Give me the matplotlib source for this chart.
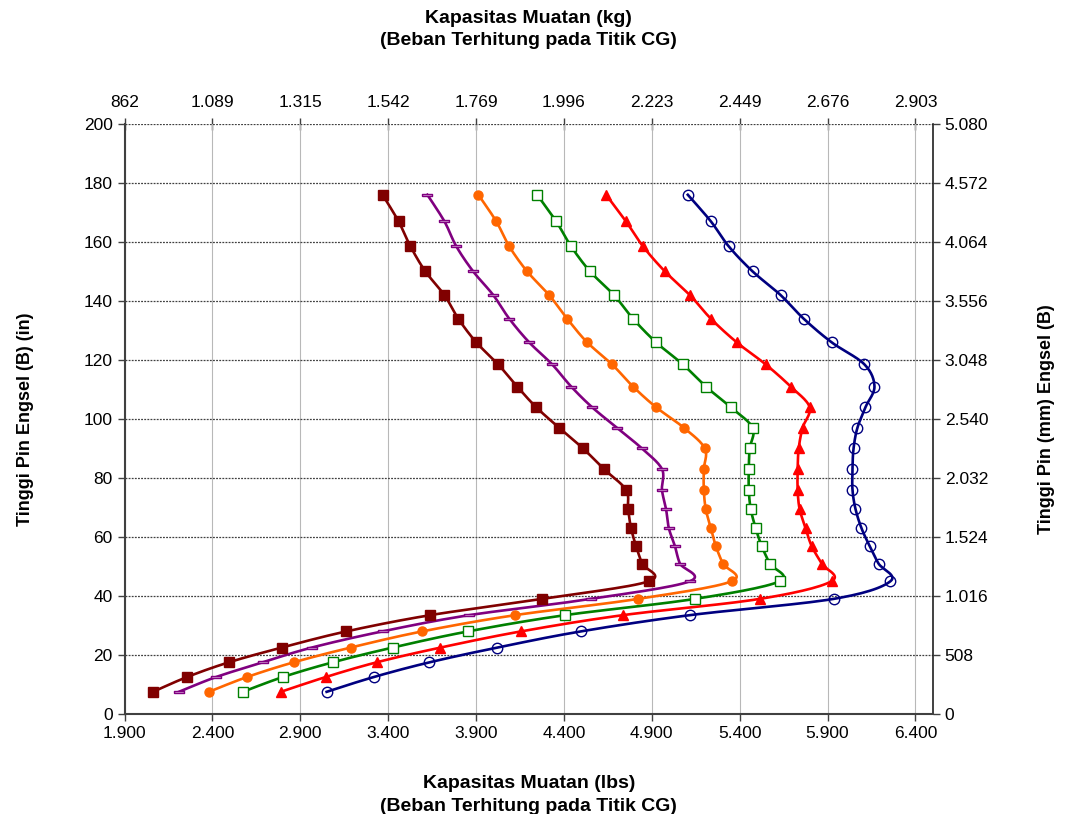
import numpy as np
import matplotlib
matplotlib.use("Agg")
import matplotlib.pyplot as plt
from matplotlib.ticker import FuncFormatter

plt.rcParams['font.family'] = ['Liberation Sans', 'DejaVu Sans']

# Hinge pin height (in), shared by every load curve
pin_height = [176, 167, 158.5, 150, 142, 134, 126, 118.5, 111, 104, 97, 90, 83,
              76, 69.5, 63, 57, 51, 45, 39, 33.5, 28, 22.5, 17.5, 12.5, 7.5]

# Load capacity (lbs) for each curve, in the same order as pin_height
cap_brown = [3368, 3459, 3527, 3612, 3720, 3799, 3901, 4026, 4134, 4242, 4373, 4509, 4628,
             4753, 4765, 4782, 4810, 4844, 4884, 4276, 3640, 3163, 2794, 2493, 2255, 2062]
cap_purple = [3623, 3720, 3788, 3884, 3998, 4089, 4202, 4333, 4441, 4560, 4702, 4844, 4958,
              4958, 4981, 4997, 5031, 5060, 5117, 4554, 3862, 3368, 2965, 2686, 2420, 2209]
cap_orange = [3913, 4015, 4089, 4191, 4316, 4418, 4532, 4674, 4793, 4924, 5083, 5202, 5196,
              5196, 5207, 5236, 5264, 5304, 5355, 4821, 4123, 3595, 3186, 2862, 2596, 2380]
cap_green = [4248, 4356, 4441, 4549, 4685, 4793, 4924, 5077, 5207, 5349, 5474, 5457, 5452,
             5452, 5463, 5491, 5525, 5571, 5628, 5145, 4407, 3856, 3425, 3084, 2800, 2573]
cap_red = [4640, 4753, 4850, 4975, 5117, 5236, 5383, 5548, 5690, 5798, 5758, 5736, 5730,
           5730, 5741, 5775, 5809, 5866, 5923, 5514, 4736, 4157, 3697, 3334, 3044, 2789]
cap_blue = [5105, 5236, 5338, 5474, 5633, 5764, 5923, 6110, 6167, 6116, 6070, 6048, 6042,
            6042, 6059, 6093, 6139, 6190, 6258, 5934, 5117, 4498, 4021, 3635, 3317, 3050]

x_ticks = [1900, 2400, 2900, 3400, 3900, 4400, 4900, 5400, 5900, 6400]
y_ticks = list(range(0, 201, 20))

LB_TO_KG = 0.45359237
IN_TO_MM = 25.4


def smooth(xs, ys, n=16):
    # Catmull-Rom style bezier through the points (like a smoothed line in a spreadsheet)
    p = np.column_stack([xs, ys]).astype(float)
    # normalise so the tangents are not dominated by the x units
    sx, sy = 500.0, 20.0
    p = p / [sx, sy]
    pts = np.vstack([p[0], p, p[-1]])
    out = []
    t = np.linspace(0, 1, n)[:, None]
    for i in range(1, len(pts) - 2):
        p0, p1, p2, p3 = pts[i - 1], pts[i], pts[i + 1], pts[i + 2]
        b1 = p1 + (p2 - p0) / 6
        b2 = p2 - (p3 - p1) / 6
        seg = ((1 - t) ** 3) * p1 + 3 * ((1 - t) ** 2) * t * b1 + 3 * (1 - t) * t ** 2 * b2 + t ** 3 * p2
        out.append(seg if i == 1 else seg[1:])
    out = np.vstack(out) * [sx, sy]
    return out[:, 0], out[:, 1]


def dot_thousands(v, pos=None):
    return f"{v:,.0f}".replace(",", ".")


fig = plt.figure(figsize=(10.67, 8.14), dpi=100)
ax = fig.add_axes([0.1167, 0.1229, 0.7577, 0.7248])

dash_marker = [(-1, -0.28), (1, -0.28), (1, 0.28), (-1, 0.28), (-1, -0.28)]
series = [
    (cap_brown, '#800000', dict(marker='s', ms=6.5, mfc='#800000', mec='#800000')),
    (cap_purple, '#800080', dict(marker=dash_marker, ms=7, mfc='#e0b8e0', mec='#800080', mew=1.0)),
    (cap_orange, '#FF6600', dict(marker='o', ms=6.5, mfc='#FF6600', mec='#FF6600')),
    (cap_green, '#008000', dict(marker='s', ms=7, mfc='white', mec='#008000', mew=1.0)),
    (cap_red, '#FF0000', dict(marker='^', ms=7, mfc='#FF0000', mec='#FF0000')),
    (cap_blue, '#000080', dict(marker='o', ms=7.5, mfc='none', mec='#000080', mew=1.0)),
]

for caps, color, mk in series:
    sx_, sy_ = smooth(caps, pin_height)
    ax.plot(sx_, sy_, color=color, lw=1.9, zorder=3)
    ax.plot(caps, pin_height, ls='none', zorder=4, **mk)

ax.set_xlim(1900, 6500)
ax.set_ylim(0, 200)
ax.set_xticks(x_ticks)
ax.set_yticks(y_ticks)
ax.xaxis.set_major_formatter(FuncFormatter(dot_thousands))

ax.grid(axis='x', color='#b8b8b8', lw=0.8, ls='-')
ax.grid(axis='y', color='#404040', lw=0.9, ls=(0, (1.5, 1)))
ax.set_axisbelow(True)

for side in ['left', 'bottom']:
    ax.spines[side].set_color('#404040')
    ax.spines[side].set_linewidth(1.5)
ax.spines['right'].set_color('#202020')
ax.spines['right'].set_linewidth(1.2)
ax.spines['top'].set_visible(False)

title_kw = dict(fontsize=14, fontweight='bold', linespacing=1.42)

ax.tick_params(axis='both', labelsize=12.5, direction='out', length=5, color='#404040', width=1)
ax.set_xlabel('Kapasitas Muatan (lbs)\n(Beban Terhitung pada Titik CG)', labelpad=25, **title_kw)
ax.set_ylabel('Tinggi Pin Engsel (B) (in)', fontsize=13, fontweight='bold', labelpad=36)

# kilogram scale on top
top = ax.secondary_xaxis('top', functions=(lambda x: x * LB_TO_KG, lambda x: x / LB_TO_KG))
top.set_xticks([v * LB_TO_KG for v in x_ticks])
top.xaxis.set_major_formatter(FuncFormatter(dot_thousands))
top.tick_params(labelsize=12.5, direction='inout', length=8, color='#404040', width=1, pad=6)
top.spines['top'].set_visible(False)
top.set_xlabel('Kapasitas Muatan (kg)\n(Beban Terhitung pada Titik CG)', labelpad=36, **title_kw)

# millimetre scale on the right
right = ax.secondary_yaxis('right', functions=(lambda y: y * IN_TO_MM, lambda y: y / IN_TO_MM))
right.set_yticks([v * IN_TO_MM for v in y_ticks])
right.yaxis.set_major_formatter(FuncFormatter(dot_thousands))
right.tick_params(labelsize=12.5, direction='out', length=5, color='#404040', width=1)
right.spines['right'].set_visible(False)
right.set_ylabel('Tinggi Pin (mm) Engsel (B)', fontsize=13, fontweight='bold', labelpad=36)

fig.savefig('out.png', dpi=100)
